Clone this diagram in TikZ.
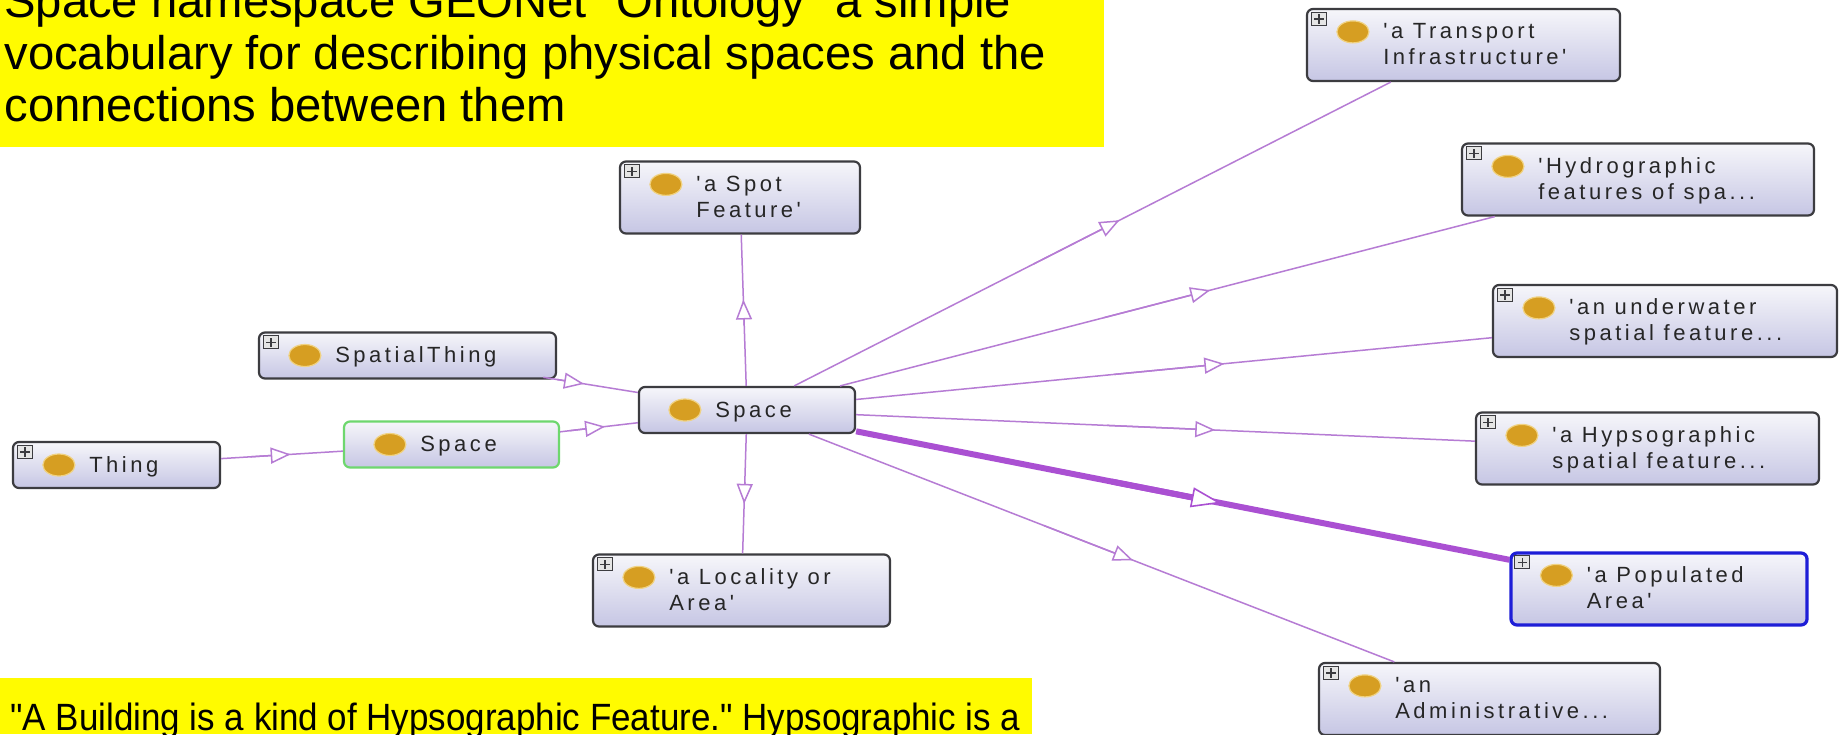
\documentclass[tikz,border=0pt]{standalone}
\usepackage{fontspec}
\setmainfont{Liberation Sans}
\newfontfamily\nodefont[LetterSpace=16,Ligatures=TeXOff]{Liberation Sans}
\newfontfamily\titlefont[Ligatures=TeXOff]{Liberation Sans}
\newfontfamily\notefont[FakeStretch=0.92,Ligatures=TeXOff]{Liberation Sans}
\usetikzlibrary{arrows.meta,calc,shapes.geometric}
\definecolor{edgec}{RGB}{182,124,212}
\definecolor{thickc}{RGB}{170,80,210}
\definecolor{boxtop}{RGB}{246,246,250}
\definecolor{boxbot}{RGB}{198,198,228}
\definecolor{boxline}{RGB}{60,60,64}
\definecolor{greenline}{RGB}{110,215,110}
\definecolor{blueline}{RGB}{30,30,215}
\definecolor{dotc}{RGB}{214,158,34}
\definecolor{haloc}{RGB}{240,210,130}
\definecolor{hilite}{RGB}{255,251,0}
\tikzset{
  cbox/.style={rectangle, rounded corners=3pt, draw=boxline, line width=1.1pt,
    top color=boxtop, bottom color=boxbot, inner sep=0pt},
  plusbox/.style={rectangle, draw=boxline, line width=0.5pt, fill=gray!20,
    minimum width=7.5pt, minimum height=6.5pt, inner sep=0pt,
    path picture={\draw[line width=0.6pt] ([xshift=-2.3pt]path picture bounding box.center) -- ([xshift=2.3pt]path picture bounding box.center);
      \draw[line width=0.6pt] ([yshift=-2.3pt]path picture bounding box.center) -- ([yshift=2.3pt]path picture bounding box.center);}},
  classdot/.style={ellipse, fill=dotc, draw=haloc, line width=0.6pt,
    minimum width=16pt, minimum height=11pt, inner sep=0pt},
  lbl/.style={font=\nodefont\fontsize{11pt}{13pt}\selectfont, anchor=base west,
    inner sep=0pt, text=black!85},
  isaedge/.style={draw=edgec, line width=0.75pt},
  thickedge/.style={draw=thickc, line width=3pt},
  note/.style={anchor=base west, inner sep=0pt, text=black},
}
\newcommand\oneline[6]{%
  \node[cbox,#5,minimum width=#4*0.5pt,minimum height=23pt] (#1) at (#2,#3) {};
  \node[classdot] (#1-d) at ($(#1.west)+(23.5pt,0)$) {};
  \node[lbl] (#1-t) at ($(#1.west)+(38.5pt,-3.5pt)$) {#6};
}
\newcommand\twoline[7]{%
  \node[cbox,#5,minimum width=#4*0.5pt,minimum height=36pt] (#1) at (#2,#3) {};
  \node[classdot] (#1-d) at ($(#1.north west)+(23.5pt,-12pt)$) {};
  \node[lbl] (#1-a) at ($(#1.north west)+(38.5pt,-15.5pt)$) {#6};
  \node[lbl] (#1-b) at ($(#1.north west)+(38.5pt,-28.5pt)$) {#7};
}
\newcommand\plusmark[1]{\node[plusbox] (#1-p) at ($(#1.north west)+(6.5pt,-5.5pt)$) {};}
\newcommand\isa[2]{%
  \draw[isaedge] (#1) -- (#2);
  \draw[isaedge,-{Triangle[fill=white,length=10pt,width=8pt]}] ($(#1)!0.40!(#2)$) -- ($(#1)!0.52!(#2)$);
}
\newcommand\isathick[2]{%
  \draw[thickedge] (#1) -- (#2);
  \draw[thickedge,-{Triangle[fill=white,length=15pt,width=10pt,line width=0.8pt]}] ($(#1)!0.40!(#2)$) -- ($(#1)!0.52!(#2)$);
}
\begin{document}
\begin{tikzpicture}[x=0.5pt,y=-0.5pt]
\useasboundingbox (0,0) rectangle (1845,734);
\clip (0,0) rectangle (1845,734);
\fill[white] (0,0) rectangle (1845,734);

% yellow notes
\fill[hilite] (0,0) rectangle (1104,147);
\node[note, font=\titlefont\fontsize{23.6pt}{26pt}\selectfont] (t1) at (4,17) {Space namespace GEONet "Ontology" a simple};
\node[note, font=\titlefont\fontsize{23.6pt}{26pt}\selectfont] (t2) at (4,69) {vocabulary for describing physical spaces and the};
\node[note, font=\titlefont\fontsize{23.6pt}{26pt}\selectfont] (t3) at (4,121) {connections between them};
\fill[hilite] (0,678) rectangle (1032,734);
\node[note, font=\notefont\fontsize{19pt}{22pt}\selectfont] (b1) at (10,730) {"A Building is a kind of Hypsographic Feature." Hypsographic is a};

% class nodes
\oneline{thing}{116.5}{465}{207}{}{Thing}\plusmark{thing}
\oneline{spatial}{407.5}{355.5}{297}{}{SpatialThing}\plusmark{spatial}
\oneline{spaceg}{451.5}{444.5}{215}{draw=greenline}{Space}
\oneline{space}{747}{410}{216}{}{Space}
\twoline{spot}{740}{197.5}{240}{}{'a Spot}{Feature'}\plusmark{spot}
\twoline{loc}{741.5}{590.5}{297}{}{'a Locality or}{Area'}\plusmark{loc}
\twoline{trans}{1463.5}{45}{313}{}{'a Transport}{Infrastructure'}\plusmark{trans}
\twoline{hydro}{1638}{179.5}{352}{}{'Hydrographic}{features of spa...}\plusmark{hydro}
\twoline{under}{1665}{321}{344}{}{'an underwater}{spatial feature...}\plusmark{under}
\twoline{hypso}{1647.5}{448.5}{343}{}{'a Hypsographic}{spatial feature...}\plusmark{hypso}
\twoline{pop}{1659}{589}{296}{draw=blueline, line width=1.6pt}{'a Populated}{Area'}\plusmark{pop}
\twoline{admin}{1489.5}{699}{341}{}{'an}{Administrative...}\plusmark{admin}

% subclass edges
\isa{thing}{spaceg}
\isa{spaceg}{space}
\isa{spatial}{space}
\isa{space}{spot}
\isa{space}{loc}
\isa{space}{trans}
\isa{space}{hydro}
\isa{space}{under}
\isa{space}{hypso}
\isathick{space}{pop}
\isa{space}{admin}
\end{tikzpicture}
\end{document}
